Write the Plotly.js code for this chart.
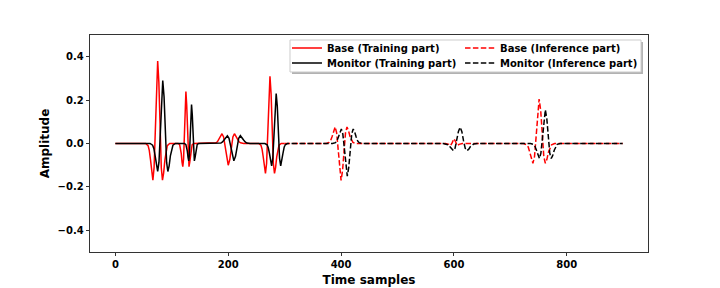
<!DOCTYPE html>
<html>
<head>
<meta charset="utf-8">
<script src="https://cdn.plot.ly/plotly-3.0.1.min.js"></script>
<style>html,body{margin:0;padding:0;background:#fff;}#chart{width:720px;height:288px;}</style>
</head>
<body>
<div id="chart"></div>
<script>
// Base (training part), samples 0-300
var baseTrainX = [0, 53.8,58,60.1,62.3,64.4,66.5,68.6,70.8,72.9,75,77.1,79.3,81.4,83.5,85.6,87.8,89.9,92,96.3,
  111.3,114,115.4,116.8,118.1,119.5,120.9,122.3,123.6,125,126.4,127.8,129.1,130.5,131.9,133.3,134.6,136,138.8,
  172.5,178,180.8,183.5,186.3,189,191.8,194.5,197.3,200,202.8,205.5,208.3,211,213.8,216.5,219.3,222,227.5,
  254,258,260,262,264,266,268,270,272,274,276,278,280,282,284,286,288,290,294, 300];
var baseTrainY = [0, 0,-0.010,-0.032,-0.075,-0.135,-0.169,-0.112,0.065,0.281,0.380,0.281,0.065,-0.112,-0.169,-0.135,-0.075,-0.032,-0.010,0,
  0,-0.006,-0.020,-0.047,-0.085,-0.107,-0.071,0.041,0.178,0.240,0.178,0.041,-0.071,-0.107,-0.085,-0.047,-0.020,-0.006,0,
  0,0.003,0.008,0.020,0.035,0.045,0.030,-0.017,-0.074,-0.100,-0.074,-0.017,0.030,0.045,0.035,0.020,0.008,0.003,0,
  0,-0.008,-0.026,-0.061,-0.110,-0.138,-0.092,0.053,0.229,0.310,0.229,0.053,-0.092,-0.138,-0.110,-0.061,-0.026,-0.008,0, 0];

// Monitor (training part)
var monitorTrainX = [0, 61.5,66,68.3,70.5,72.8,75,77.3,79.5,81.8,84,86.3,88.5,90.8,93,95.3,97.5,99.8,102,106.5,
  122.5,125,126.3,127.5,128.8,130,131.3,132.5,133.8,135,136.3,137.5,138.8,140,141.3,142.5,143.8,145,147.5,
  181.3,187,189.9,192.8,195.6,198.5,201.4,204.3,207.1,210,212.9,215.8,218.6,221.5,224.4,227.3,230.1,233,238.8,
  265,269,271,273,275,277,279,281,283,285,287,289,291,293,295,297,299, 300];
var monitorTrainY = [0, 0,-0.008,-0.024,-0.057,-0.103,-0.129,-0.086,0.050,0.215,0.290,0.215,0.050,-0.086,-0.129,-0.103,-0.057,-0.024,-0.008,0,
  0,-0.005,-0.015,-0.035,-0.064,-0.080,-0.053,0.031,0.133,0.180,0.133,0.031,-0.053,-0.080,-0.064,-0.035,-0.015,-0.005,0,
  0,0.002,0.007,0.016,0.028,0.036,0.024,-0.014,-0.059,-0.080,-0.059,-0.014,0.024,0.036,0.028,0.016,0.007,0.002,0,
  0,-0.006,-0.019,-0.045,-0.081,-0.103,-0.068,0.040,0.170,0.230,0.170,0.040,-0.068,-0.103,-0.081,-0.045,-0.019, -0.011];

// Base (inference part), samples 300-899
var baseInfX = [300, 373.8,379,381.6,384.3,386.9,389.5,392.1,394.8,397.4,400,402.6,405.3,407.9,410.5,413.1,415.8,418.4,421,426.3,
  585,591,594,597,598.5,600,601.5,603,606,609,615,
  723.5,729,731.8,734.5,737.3,740,742.8,745.5,748.3,751,753.8,756.5,759.3,762,764.8,767.5,770.3,773,778.5, 899];
var baseInfY = [0, 0,0.005,0.014,0.033,0.060,0.076,0.050,-0.029,-0.126,-0.170,-0.126,-0.029,0.050,0.076,0.060,0.033,0.014,0.005,0,
  0,-0.004,-0.010,0.004,0.016,0.022,0.016,0.004,-0.010,-0.004,0,
  0,-0.006,-0.017,-0.040,-0.073,-0.091,-0.061,0.035,0.152,0.205,0.152,0.035,-0.061,-0.091,-0.073,-0.040,-0.017,-0.006,0, 0];

// Monitor (inference part)
var monitorInfX = [300, 301, 305, 384.8,390,392.6,395.3,397.9,400.5,403.1,405.8,408.4,411,413.6,416.3,418.9,421.5,424.1,426.8,429.4,432,437.3,
  581,587,590,593,596,599,602,605,608,611,614,617,620,623,626,629,632,635,641,
  735.8,741,743.6,746.3,748.9,751.5,754.1,756.8,759.4,762,764.6,767.3,769.9,772.5,775.1,777.8,780.4,783,788.3, 899];
var monitorInfY = [-0.011, -0.006, 0, 0,0.004,0.012,0.030,0.053,0.067,0.044,-0.026,-0.111,-0.150,-0.111,-0.026,0.044,0.067,0.053,0.030,0.012,0.004,0,
  0,-0.002,-0.006,-0.015,-0.027,-0.033,-0.022,0.013,0.056,0.075,0.056,0.013,-0.022,-0.033,-0.027,-0.015,-0.006,-0.002,0,
  0,-0.004,-0.013,-0.031,-0.055,-0.069,-0.046,0.027,0.115,0.155,0.115,0.027,-0.046,-0.069,-0.055,-0.031,-0.013,-0.004,0, 0];

var seriesNames = ['Base (Training part)', 'Monitor (Training part)', 'Base (Inference part)', 'Monitor (Inference part)'];
var xTickVals = [0, 200, 400, 600, 800];
var yTickVals = [-0.4, -0.2, 0.0, 0.2, 0.4];

var FONT = 'DejaVu Sans, Liberation Sans, sans-serif';
var DASH = '5.5px,2.4px';

var traces = [
  {x: baseTrainX, y: baseTrainY, name: seriesNames[0], mode: 'lines', line: {color: '#ff0000', width: 1.5}, legend: 'legend'},
  {x: monitorTrainX, y: monitorTrainY, name: seriesNames[1], mode: 'lines', line: {color: '#000000', width: 1.5}, legend: 'legend2'},
  {x: baseInfX, y: baseInfY, name: seriesNames[2], mode: 'lines', line: {color: '#ff0000', width: 1.5, dash: DASH}, legend: 'legend3'},
  {x: monitorInfX, y: monitorInfY, name: seriesNames[3], mode: 'lines', line: {color: '#000000', width: 1.5, dash: DASH}, legend: 'legend4'}
];

function legendAt(x, y) {
  return {x: x, y: y, xanchor: 'left', yanchor: 'middle', bgcolor: 'rgba(0,0,0,0)', borderwidth: 0,
    font: {family: FONT, size: 10, weight: 'bold', color: '#000'}};
}

var layout = {
  width: 720, height: 288,
  margin: {l: 90, r: 72, t: 35, b: 36},
  paper_bgcolor: '#ffffff', plot_bgcolor: '#ffffff',
  font: {family: FONT, size: 10, color: '#000'},
  showlegend: true,
  legend: legendAt(0.3530, 0.940),
  legend2: legendAt(0.3530, 0.871),
  legend3: legendAt(0.6631, 0.940),
  legend4: legendAt(0.6631, 0.871),
  xaxis: {
    range: [-44.95, 943.95], tickvals: xTickVals, ticks: 'outside', ticklen: 3.5, tickwidth: 0.8, tickcolor: '#000',
    showline: true, mirror: true, linecolor: '#000', linewidth: 0.8, showgrid: false, zeroline: false,
    tickfont: {family: FONT, size: 10, weight: 'bold', color: '#000'},
    title: {text: 'Time samples', font: {family: FONT, size: 12, weight: 'bold', color: '#000'}, standoff: 6}
  },
  yaxis: {
    range: [-0.5, 0.5], tickvals: yTickVals, tickformat: '.1f', ticks: 'outside', ticklen: 3.5, tickwidth: 0.8, tickcolor: '#000',
    showline: true, mirror: true, linecolor: '#000', linewidth: 0.8, showgrid: false, zeroline: false,
    tickfont: {family: FONT, size: 10, weight: 'bold', color: '#000'},
    title: {text: 'Amplitude', font: {family: FONT, size: 12, weight: 'bold', color: '#000'}, standoff: 5}
  },
  shapes: [
    {type: 'rect', xref: 'paper', yref: 'paper', x0: 0.3620, x1: 0.9910, y0: 0.8203, y1: 0.9677,
      fillcolor: 'rgba(0,0,0,0.3)', line: {width: 0}, layer: 'above'},
    {type: 'rect', xref: 'paper', yref: 'paper', x0: 0.3584, x1: 0.9875, y0: 0.8295, y1: 0.9770,
      fillcolor: '#ffffff', line: {color: '#cccccc', width: 1}, layer: 'above'}
  ]
};

Plotly.newPlot('chart', traces, layout, {staticPlot: true, displayModeBar: false});
</script>
</body>
</html>
